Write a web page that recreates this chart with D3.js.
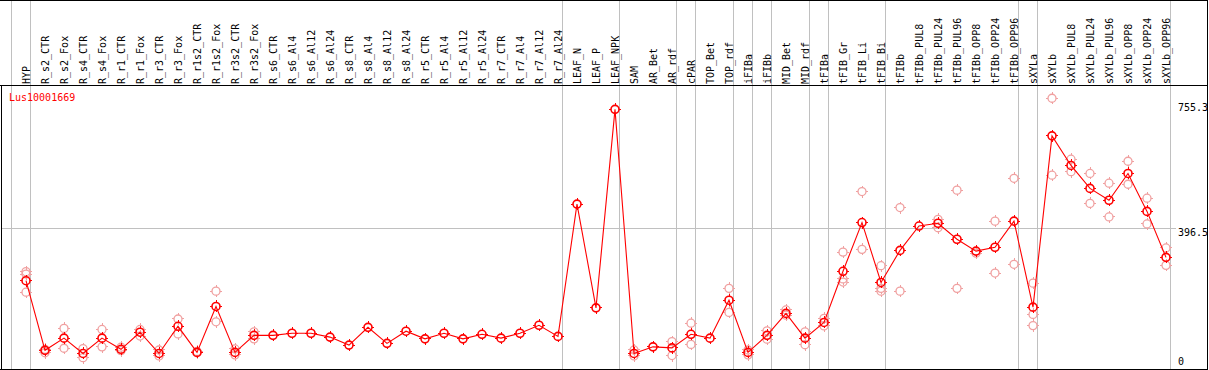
<!DOCTYPE html>
<html>
<head>
<meta charset="utf-8">
<script src="https://cdn.jsdelivr.net/npm/d3@7"></script>
<style>
  html, body { margin: 0; padding: 0; background: #fff; }
  svg { display: block; }
  text { font-family: "DejaVu Sans Mono", "Liberation Mono", monospace; font-size: 10px; }
</style>
</head>
<body>
<svg id="chart" width="1209" height="370"></svg>
<script>
const title = "Lus10001669";

const categories = [
  "HYP",
  "R_s2_CTR","R_s2_Fox","R_s4_CTR","R_s4_Fox","R_r1_CTR","R_r1_Fox","R_r3_CTR","R_r3_Fox",
  "R_r1s2_CTR","R_r1s2_Fox","R_r3s2_CTR","R_r3s2_Fox","R_s6_CTR","R_s6_Al4","R_s6_Al12","R_s6_Al24",
  "R_s8_CTR","R_s8_Al4","R_s8_Al12","R_s8_Al24","R_r5_CTR","R_r5_Al4","R_r5_Al12","R_r5_Al24",
  "R_r7_CTR","R_r7_Al4","R_r7_Al12","R_r7_Al24",
  "LEAF_N","LEAF_P","LEAF_NPK",
  "SAM","AR_Bet","AR_rdf",
  "cPAR",
  "TOP_Bet","TOP_rdf",
  "iFIBa",
  "iFIBb",
  "MID_Bet","MID_rdf",
  "tFIBa",
  "tFIB_Gr","tFIB_Li","tFIB_Bi",
  "tFIBb","tFIBb_PUL8","tFIBb_PUL24","tFIBb_PUL96","tFIBb_OPP8","tFIBb_OPP24","tFIBb_OPP96",
  "sXYLa",
  "sXYLb","sXYLb_PUL8","sXYLb_PUL24","sXYLb_PUL96","sXYLb_OPP8","sXYLb_OPP24","sXYLb_OPP96"
];

// number of samples in each tissue group (group separators drawn between them)
const groupSizes = [1, 28, 3, 3, 1, 2, 1, 1, 2, 1, 3, 7, 1, 7];

const meanValues = [
  245,
  45, 80, 36, 80, 48, 97, 36, 114,
  39, 171, 39, 88, 88, 94, 94, 83,
  60, 111, 65, 100, 78, 94, 78, 91,
  80, 94, 117, 85,
  465, 167, 737,
  36, 55, 52,
  91,
  80, 189,
  39,
  88,
  151, 80,
  125,
  272, 412, 240,
  332, 402, 410, 364, 330, 341, 416,
  169,
  661, 576, 510, 476, 553, 444, 312
];

const replicateValues = [
  [271, 264, 212],
  [48, 38], [108, 51], [50, 24], [105, 55], [54, 44], [105, 86], [46, 29], [135, 92],
  [42, 38], [215, 127], [49, 32], [98, 78], [], [], [], [],
  [], [], [], [], [], [], [], [],
  [], [], [], [],
  [], [], [],
  [46, 29], [], [70, 30],
  [123, 62],
  [], [223, 154],
  [46, 32],
  [101, 77],
  [161, 146], [98, 61],
  [137, 115],
  [327, 250, 241], [501, 335], [288, 223, 215],
  [455, 215], [], [421, 397], [505, 223], [324], [416, 267], [539, 292],
  [238, 148, 116],
  [769, 548], [594, 558], [553, 467], [525, 428], [588, 522], [482, 408], [339, 289]
];

const axisTicks = [0, 396.5, 755.3];
const gridTicks = [396.5];

const svg = d3.select("#chart");
const W = 1209, H = 370;
const headerBottom = 85, frameRight = 1207, frameBottom = 369;

const x = d3.scaleBand().domain(categories).range([16.5, 16.5 + 19 * categories.length]).padding(0);
const cx = c => x(c) + x.bandwidth() / 2;
const y = d3.scaleLinear().domain([0, 755.3]).range([366, 103]);

const RED = "#ff0000", PINK = "#f0a0a0", GRAY = "#c0c0c0";

// group separator lines
const sepX = [cx(categories[0]) - 14.5];
let acc = 0;
groupSizes.forEach(n => { acc += n; sepX.push(cx(categories[acc - 1]) + 4.5); });
svg.append("g").selectAll("line").data(sepX).join("line")
  .attr("x1", d => Math.floor(d) + 0.5).attr("x2", d => Math.floor(d) + 0.5)
  .attr("y1", 0).attr("y2", frameBottom)
  .attr("stroke", GRAY).attr("stroke-width", 1).attr("shape-rendering", "crispEdges");

// horizontal grid
svg.append("g").selectAll("line").data(gridTicks).join("line")
  .attr("x1", 1).attr("x2", 1176)
  .attr("y1", d => Math.round(y(d)) + 0.5).attr("y2", d => Math.round(y(d)) + 0.5)
  .attr("stroke", GRAY).attr("shape-rendering", "crispEdges");

// frame
const frame = svg.append("g").attr("stroke", "#000").attr("shape-rendering", "crispEdges");
frame.append("line").attr("x1", 0).attr("x2", frameRight + 1).attr("y1", 0.5).attr("y2", 0.5);
frame.append("line").attr("x1", 0).attr("x2", frameRight + 1).attr("y1", headerBottom + 0.5).attr("y2", headerBottom + 0.5);
frame.append("line").attr("x1", 0).attr("x2", frameRight + 1).attr("y1", frameBottom + 0.5).attr("y2", frameBottom + 0.5);
frame.append("line").attr("x1", 1.5).attr("x2", 1.5).attr("y1", headerBottom).attr("y2", frameBottom + 1);
frame.append("line").attr("x1", frameRight + 0.5).attr("x2", frameRight + 0.5).attr("y1", 0).attr("y2", frameBottom + 1);

// column labels
svg.append("g").selectAll("text").data(categories).join("text")
  .attr("transform", d => `translate(${cx(d) + 3.5},84) rotate(-90)`)
  .attr("text-anchor", "start")
  .attr("fill", "#000")
  .text(d => d);

// y-axis labels on right
svg.append("g").selectAll("text").data(axisTicks).join("text")
  .attr("x", 1178)
  .attr("y", d => Math.min(y(d) + 8, 365))
  .attr("fill", "#000")
  .text(d => d === 0 ? "0" : d3.format(".1f")(d));

// title
svg.append("text").attr("x", 9).attr("y", 101).attr("fill", RED).text(title);

// marker drawing helper
function marker(g, color, sw) {
  g.append("circle").attr("r", 4).attr("fill", "none").attr("stroke", color).attr("stroke-width", sw);
  g.append("path").attr("d", "M0,-4V-6M0,4V6M-4,0H-6M4,0H6")
    .attr("stroke", color).attr("stroke-width", 1).attr("shape-rendering", "crispEdges");
}

// replicates
const reps = [];
replicateValues.forEach((arr, i) => arr.forEach(v => reps.push({ c: categories[i], v })));
svg.append("g").selectAll("g").data(reps).join("g")
  .attr("transform", d => `translate(${cx(d.c)},${y(d.v)})`)
  .each(function () { marker(d3.select(this), PINK, 1.3); });

// mean line
const pts = categories.map((c, i) => ({ c, v: meanValues[i] }));
svg.append("path").datum(pts)
  .attr("fill", "none").attr("stroke", RED).attr("stroke-width", 1.1)
  .attr("d", d3.line().x(d => cx(d.c)).y(d => y(d.v)));

// mean markers
svg.append("g").selectAll("g").data(pts).join("g")
  .attr("transform", d => `translate(${cx(d.c)},${y(d.v)})`)
  .each(function () { marker(d3.select(this), RED, 1.6); });
</script>
</body>
</html>
